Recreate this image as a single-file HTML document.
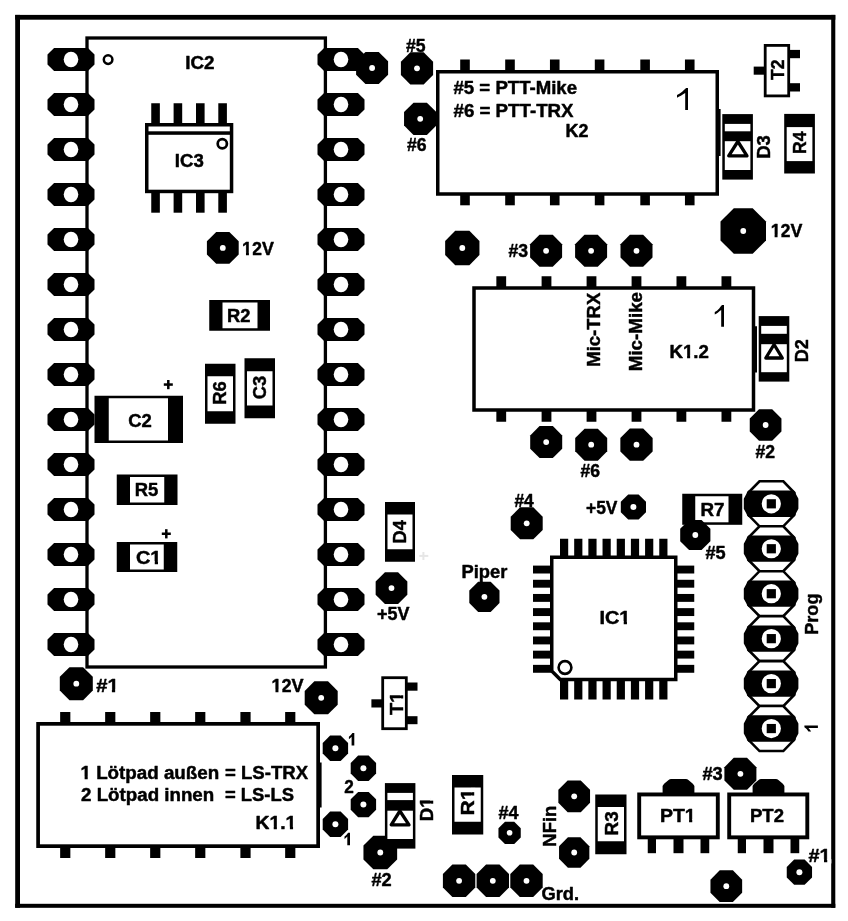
<!DOCTYPE html>
<html><head><meta charset="utf-8"><title>PCB</title>
<style>
html,body{margin:0;padding:0;background:#fff;}
svg{display:block;will-change:transform;filter:grayscale(1) blur(0.35px);}
text{font-family:"Liberation Sans",sans-serif;fill:#000;stroke:#000;stroke-width:0.45px;stroke-linejoin:round;}
</style></head><body>
<svg width="848" height="921" viewBox="0 0 848 921">
<rect width="848" height="921" fill="#fff"/>
<rect x="15.20" y="14.90" width="4.80" height="892.90" fill="#000"/>
<rect x="15.20" y="14.90" width="820.10" height="4.80" fill="#000"/>
<rect x="831.20" y="14.90" width="4.10" height="892.90" fill="#000"/>
<rect x="15.20" y="903.80" width="820.10" height="4.00" fill="#000"/>
<rect x="87" y="38" width="238.4" height="629" fill="none" stroke="#000" stroke-width="3.3"/>
<polygon points="54.10,47.90 87.90,47.90 94.50,54.50 94.50,64.50 87.90,71.10 54.10,71.10 47.50,64.50 47.50,54.50" fill="#000"/>
<ellipse cx="71" cy="59.5" rx="7.3" ry="7.7" fill="#fff"/>
<polygon points="324.10,47.90 357.90,47.90 364.50,54.50 364.50,64.50 357.90,71.10 324.10,71.10 317.50,64.50 317.50,54.50" fill="#000"/>
<ellipse cx="341" cy="59.5" rx="7.3" ry="7.7" fill="#fff"/>
<polygon points="54.10,92.90 87.90,92.90 94.50,99.50 94.50,109.50 87.90,116.10 54.10,116.10 47.50,109.50 47.50,99.50" fill="#000"/>
<ellipse cx="71" cy="104.5" rx="7.3" ry="7.7" fill="#fff"/>
<polygon points="324.10,92.90 357.90,92.90 364.50,99.50 364.50,109.50 357.90,116.10 324.10,116.10 317.50,109.50 317.50,99.50" fill="#000"/>
<ellipse cx="341" cy="104.5" rx="7.3" ry="7.7" fill="#fff"/>
<polygon points="54.10,137.90 87.90,137.90 94.50,144.50 94.50,154.50 87.90,161.10 54.10,161.10 47.50,154.50 47.50,144.50" fill="#000"/>
<ellipse cx="71" cy="149.5" rx="7.3" ry="7.7" fill="#fff"/>
<polygon points="324.10,137.90 357.90,137.90 364.50,144.50 364.50,154.50 357.90,161.10 324.10,161.10 317.50,154.50 317.50,144.50" fill="#000"/>
<ellipse cx="341" cy="149.5" rx="7.3" ry="7.7" fill="#fff"/>
<polygon points="54.10,182.90 87.90,182.90 94.50,189.50 94.50,199.50 87.90,206.10 54.10,206.10 47.50,199.50 47.50,189.50" fill="#000"/>
<ellipse cx="71" cy="194.5" rx="7.3" ry="7.7" fill="#fff"/>
<polygon points="324.10,182.90 357.90,182.90 364.50,189.50 364.50,199.50 357.90,206.10 324.10,206.10 317.50,199.50 317.50,189.50" fill="#000"/>
<ellipse cx="341" cy="194.5" rx="7.3" ry="7.7" fill="#fff"/>
<polygon points="54.10,227.90 87.90,227.90 94.50,234.50 94.50,244.50 87.90,251.10 54.10,251.10 47.50,244.50 47.50,234.50" fill="#000"/>
<ellipse cx="71" cy="239.5" rx="7.3" ry="7.7" fill="#fff"/>
<polygon points="324.10,227.90 357.90,227.90 364.50,234.50 364.50,244.50 357.90,251.10 324.10,251.10 317.50,244.50 317.50,234.50" fill="#000"/>
<ellipse cx="341" cy="239.5" rx="7.3" ry="7.7" fill="#fff"/>
<polygon points="54.10,272.90 87.90,272.90 94.50,279.50 94.50,289.50 87.90,296.10 54.10,296.10 47.50,289.50 47.50,279.50" fill="#000"/>
<ellipse cx="71" cy="284.5" rx="7.3" ry="7.7" fill="#fff"/>
<polygon points="324.10,272.90 357.90,272.90 364.50,279.50 364.50,289.50 357.90,296.10 324.10,296.10 317.50,289.50 317.50,279.50" fill="#000"/>
<ellipse cx="341" cy="284.5" rx="7.3" ry="7.7" fill="#fff"/>
<polygon points="54.10,317.90 87.90,317.90 94.50,324.50 94.50,334.50 87.90,341.10 54.10,341.10 47.50,334.50 47.50,324.50" fill="#000"/>
<ellipse cx="71" cy="329.5" rx="7.3" ry="7.7" fill="#fff"/>
<polygon points="324.10,317.90 357.90,317.90 364.50,324.50 364.50,334.50 357.90,341.10 324.10,341.10 317.50,334.50 317.50,324.50" fill="#000"/>
<ellipse cx="341" cy="329.5" rx="7.3" ry="7.7" fill="#fff"/>
<polygon points="54.10,362.90 87.90,362.90 94.50,369.50 94.50,379.50 87.90,386.10 54.10,386.10 47.50,379.50 47.50,369.50" fill="#000"/>
<ellipse cx="71" cy="374.5" rx="7.3" ry="7.7" fill="#fff"/>
<polygon points="324.10,362.90 357.90,362.90 364.50,369.50 364.50,379.50 357.90,386.10 324.10,386.10 317.50,379.50 317.50,369.50" fill="#000"/>
<ellipse cx="341" cy="374.5" rx="7.3" ry="7.7" fill="#fff"/>
<polygon points="54.10,407.90 87.90,407.90 94.50,414.50 94.50,424.50 87.90,431.10 54.10,431.10 47.50,424.50 47.50,414.50" fill="#000"/>
<ellipse cx="71" cy="419.5" rx="7.3" ry="7.7" fill="#fff"/>
<polygon points="324.10,407.90 357.90,407.90 364.50,414.50 364.50,424.50 357.90,431.10 324.10,431.10 317.50,424.50 317.50,414.50" fill="#000"/>
<ellipse cx="341" cy="419.5" rx="7.3" ry="7.7" fill="#fff"/>
<polygon points="54.10,452.90 87.90,452.90 94.50,459.50 94.50,469.50 87.90,476.10 54.10,476.10 47.50,469.50 47.50,459.50" fill="#000"/>
<ellipse cx="71" cy="464.5" rx="7.3" ry="7.7" fill="#fff"/>
<polygon points="324.10,452.90 357.90,452.90 364.50,459.50 364.50,469.50 357.90,476.10 324.10,476.10 317.50,469.50 317.50,459.50" fill="#000"/>
<ellipse cx="341" cy="464.5" rx="7.3" ry="7.7" fill="#fff"/>
<polygon points="54.10,497.90 87.90,497.90 94.50,504.50 94.50,514.50 87.90,521.10 54.10,521.10 47.50,514.50 47.50,504.50" fill="#000"/>
<ellipse cx="71" cy="509.5" rx="7.3" ry="7.7" fill="#fff"/>
<polygon points="324.10,497.90 357.90,497.90 364.50,504.50 364.50,514.50 357.90,521.10 324.10,521.10 317.50,514.50 317.50,504.50" fill="#000"/>
<ellipse cx="341" cy="509.5" rx="7.3" ry="7.7" fill="#fff"/>
<polygon points="54.10,542.90 87.90,542.90 94.50,549.50 94.50,559.50 87.90,566.10 54.10,566.10 47.50,559.50 47.50,549.50" fill="#000"/>
<ellipse cx="71" cy="554.5" rx="7.3" ry="7.7" fill="#fff"/>
<polygon points="324.10,542.90 357.90,542.90 364.50,549.50 364.50,559.50 357.90,566.10 324.10,566.10 317.50,559.50 317.50,549.50" fill="#000"/>
<ellipse cx="341" cy="554.5" rx="7.3" ry="7.7" fill="#fff"/>
<polygon points="54.10,587.90 87.90,587.90 94.50,594.50 94.50,604.50 87.90,611.10 54.10,611.10 47.50,604.50 47.50,594.50" fill="#000"/>
<ellipse cx="71" cy="599.5" rx="7.3" ry="7.7" fill="#fff"/>
<polygon points="324.10,587.90 357.90,587.90 364.50,594.50 364.50,604.50 357.90,611.10 324.10,611.10 317.50,604.50 317.50,594.50" fill="#000"/>
<ellipse cx="341" cy="599.5" rx="7.3" ry="7.7" fill="#fff"/>
<polygon points="54.10,632.90 87.90,632.90 94.50,639.50 94.50,649.50 87.90,656.10 54.10,656.10 47.50,649.50 47.50,639.50" fill="#000"/>
<ellipse cx="71" cy="644.5" rx="7.3" ry="7.7" fill="#fff"/>
<polygon points="324.10,632.90 357.90,632.90 364.50,639.50 364.50,649.50 357.90,656.10 324.10,656.10 317.50,649.50 317.50,639.50" fill="#000"/>
<ellipse cx="341" cy="644.5" rx="7.3" ry="7.7" fill="#fff"/>
<circle cx="108.1" cy="59.6" r="4.3" fill="#fff" stroke="#000" stroke-width="2.5"/>
<text x="185.22" y="68.50" font-size="17.6" font-weight="bold" textLength="29.30" lengthAdjust="spacingAndGlyphs">IC2</text>
<rect x="151.25" y="103.25" width="8.60" height="20.75" fill="#000"/>
<rect x="151.25" y="192.00" width="8.60" height="20.70" fill="#000"/>
<rect x="173.60" y="103.25" width="8.60" height="20.75" fill="#000"/>
<rect x="173.60" y="192.00" width="8.60" height="20.70" fill="#000"/>
<rect x="196.00" y="103.25" width="8.60" height="20.75" fill="#000"/>
<rect x="196.00" y="192.00" width="8.60" height="20.70" fill="#000"/>
<rect x="218.30" y="103.25" width="8.60" height="20.75" fill="#000"/>
<rect x="218.30" y="192.00" width="8.60" height="20.70" fill="#000"/>
<rect x="146.75" y="124.75" width="84.80" height="66.70" fill="#fff" stroke="#000" stroke-width="3.5"/>
<rect x="146.00" y="131.30" width="86.00" height="3.50" fill="#000"/>
<circle cx="222.3" cy="143.8" r="4.6" fill="#fff" stroke="#000" stroke-width="2.7"/>
<text x="174.79" y="166.80" font-size="17.6" font-weight="bold" textLength="28.98" lengthAdjust="spacingAndGlyphs">IC3</text>
<polygon points="216.21,232.00 229.39,232.00 238.70,241.31 238.70,254.49 229.39,263.80 216.21,263.80 206.90,254.49 206.90,241.31" fill="#000"/>
<circle cx="222.8" cy="247.9" r="2.9" fill="#fff"/>
<text x="242.04" y="255.00" font-size="17.6" font-weight="bold" textLength="31.78" lengthAdjust="spacingAndGlyphs">12V</text><rect x="241.97" y="252.50" width="4.00" height="4.20" fill="#fff"/><rect x="248.92" y="252.50" width="3.77" height="4.20" fill="#fff"/>
<rect x="209.25" y="300.00" width="60.75" height="30.75" fill="#000"/>
<rect x="222.50" y="302.50" width="35.00" height="25.75" fill="#fff"/>
<text x="227.03" y="322.25" font-size="17.6" font-weight="bold" textLength="23.46" lengthAdjust="spacingAndGlyphs">R2</text>
<rect x="205.00" y="363.75" width="30.50" height="60.00" fill="#000"/>
<rect x="207.50" y="376.25" width="25.50" height="35.00" fill="#fff"/>
<text transform="translate(225.60,392.98) rotate(-90)" font-size="18.8" font-weight="bold" text-anchor="middle" textLength="23.60" lengthAdjust="spacingAndGlyphs">R6</text>
<rect x="244.50" y="358.25" width="30.50" height="60.00" fill="#000"/>
<rect x="247.00" y="371.25" width="25.50" height="34.25" fill="#fff"/>
<text transform="translate(265.60,387.64) rotate(-90)" font-size="18.8" font-weight="bold" text-anchor="middle" textLength="23.42" lengthAdjust="spacingAndGlyphs">C3</text>
<rect x="94.50" y="395.75" width="88.50" height="47.25" fill="#000"/>
<rect x="108.75" y="398.25" width="59.25" height="42.25" fill="#fff"/>
<text x="128.15" y="427.25" font-size="17.6" font-weight="bold" textLength="23.62" lengthAdjust="spacingAndGlyphs">C2</text>
<rect x="163.80" y="383.30" width="9.00" height="2.50" fill="#000"/>
<rect x="167.05" y="380.00" width="2.50" height="9.20" fill="#000"/>
<rect x="116.75" y="474.50" width="60.75" height="30.50" fill="#000"/>
<rect x="130.00" y="477.00" width="34.25" height="25.50" fill="#fff"/>
<text x="134.69" y="496.00" font-size="17.6" font-weight="bold" textLength="23.57" lengthAdjust="spacingAndGlyphs">R5</text>
<rect x="116.75" y="542.00" width="60.50" height="30.00" fill="#000"/>
<rect x="130.00" y="544.50" width="33.75" height="25.00" fill="#fff"/>
<text x="135.92" y="563.75" font-size="17.6" font-weight="bold" textLength="25.53" lengthAdjust="spacingAndGlyphs">C1</text><rect x="150.39" y="561.25" width="4.36" height="4.20" fill="#fff"/><rect x="157.99" y="561.25" width="4.10" height="4.20" fill="#fff"/>
<rect x="161.80" y="532.50" width="9.00" height="2.50" fill="#000"/>
<rect x="165.05" y="529.20" width="2.50" height="9.20" fill="#000"/>
<polygon points="365.47,52.00 378.73,52.00 388.10,61.37 388.10,74.63 378.73,84.00 365.47,84.00 356.10,74.63 356.10,61.37" fill="#000"/>
<circle cx="372.1" cy="68" r="2.9" fill="#fff"/>
<polygon points="410.33,52.20 423.67,52.20 433.10,61.63 433.10,74.97 423.67,84.40 410.33,84.40 400.90,74.97 400.90,61.63" fill="#000"/>
<circle cx="417" cy="68.3" r="2.9" fill="#fff"/>
<polygon points="413.51,102.65 426.89,102.65 436.35,112.11 436.35,125.49 426.89,134.95 413.51,134.95 404.05,125.49 404.05,112.11" fill="#000"/>
<circle cx="420.2" cy="118.8" r="2.9" fill="#fff"/>
<text x="406.07" y="51.75" font-size="17.6" font-weight="bold" textLength="19.60" lengthAdjust="spacingAndGlyphs">#5</text>
<text x="407.00" y="151.25" font-size="17.6" font-weight="bold" textLength="19.62" lengthAdjust="spacingAndGlyphs">#6</text>
<rect x="460.20" y="59.50" width="9.60" height="11.50" fill="#000"/>
<rect x="460.20" y="195.00" width="9.60" height="10.30" fill="#000"/>
<rect x="505.20" y="59.50" width="9.60" height="11.50" fill="#000"/>
<rect x="505.20" y="195.00" width="9.60" height="10.30" fill="#000"/>
<rect x="549.95" y="59.50" width="9.60" height="11.50" fill="#000"/>
<rect x="549.95" y="195.00" width="9.60" height="10.30" fill="#000"/>
<rect x="594.80" y="59.50" width="9.60" height="11.50" fill="#000"/>
<rect x="594.80" y="195.00" width="9.60" height="10.30" fill="#000"/>
<rect x="640.30" y="59.50" width="9.60" height="11.50" fill="#000"/>
<rect x="640.30" y="195.00" width="9.60" height="10.30" fill="#000"/>
<rect x="684.95" y="59.50" width="9.60" height="11.50" fill="#000"/>
<rect x="684.95" y="195.00" width="9.60" height="10.30" fill="#000"/>
<rect x="437.75" y="71.75" width="279.50" height="122.25" fill="#fff" stroke="#000" stroke-width="3.5"/>
<rect x="717.50" y="109.00" width="3.10" height="47.00" fill="#000"/>
<text x="453.50" y="94.25" font-size="17.6" font-weight="bold" textLength="123.56" lengthAdjust="spacingAndGlyphs">#5 = PTT-Mike</text>
<text x="453.50" y="117.25" font-size="17.6" font-weight="bold" textLength="120.07" lengthAdjust="spacingAndGlyphs">#6 = PTT-TRX</text>
<text x="565.56" y="137.25" font-size="17.6" font-weight="bold" textLength="22.87" lengthAdjust="spacingAndGlyphs">K2</text>
<path d="M688.00,110.00 L685.20,110.00 L685.20,92.95 C682.70,94.60 679.00,96.80 677.00,97.68 L677.00,95.04 C681.00,93.28 683.70,90.20 686.10,88.00 L688.00,88.00 Z" fill="#000"/>
<rect x="753.70" y="66.60" width="11.30" height="8.10" fill="#000"/>
<rect x="789.50" y="49.90" width="10.50" height="8.30" fill="#000"/>
<rect x="789.50" y="83.20" width="10.50" height="8.30" fill="#000"/>
<rect x="765.20" y="45.40" width="23.50" height="50.50" fill="#fff" stroke="#000" stroke-width="2.8"/>
<text transform="translate(783.60,69.75) rotate(-90)" font-size="18.8" font-weight="bold" text-anchor="middle" textLength="20.52" lengthAdjust="spacingAndGlyphs">T2</text>
<rect x="722.30" y="114.10" width="30.60" height="65.50" fill="#000"/>
<rect x="724.80" y="123.90" width="25.60" height="7.40" fill="#fff"/>
<rect x="724.80" y="141.20" width="25.60" height="28.80" fill="#fff"/>
<polygon points="737.85,141.50 747.00,155.85 728.70,155.85" fill="#fff" stroke="#000" stroke-width="3.3" stroke-linejoin="round"/>
<text transform="translate(769.80,146.95) rotate(-90)" font-size="18.8" font-weight="bold" text-anchor="middle" textLength="23.67" lengthAdjust="spacingAndGlyphs">D3</text>
<rect x="784.20" y="113.90" width="30.70" height="59.60" fill="#000"/>
<rect x="786.70" y="127.10" width="25.70" height="34.00" fill="#fff"/>
<text transform="translate(806.00,142.76) rotate(-90)" font-size="18.8" font-weight="bold" text-anchor="middle" textLength="22.55" lengthAdjust="spacingAndGlyphs">R4</text>
<polygon points="733.83,208.25 752.67,208.25 766.00,221.58 766.00,240.42 752.67,253.75 733.83,253.75 720.50,240.42 720.50,221.58" fill="#000"/>
<circle cx="743.25" cy="231" r="2.9" fill="#fff"/>
<text x="770.69" y="237.25" font-size="17.6" font-weight="bold" textLength="31.73" lengthAdjust="spacingAndGlyphs">12V</text><rect x="770.61" y="234.75" width="3.99" height="4.20" fill="#fff"/><rect x="777.56" y="234.75" width="3.77" height="4.20" fill="#fff"/>
<polygon points="455.20,230.85 469.40,230.85 479.45,240.90 479.45,255.10 469.40,265.15 455.20,265.15 445.15,255.10 445.15,240.90" fill="#000"/>
<circle cx="462.3" cy="248" r="2.9" fill="#fff"/>
<polygon points="539.47,234.80 552.73,234.80 562.10,244.17 562.10,257.43 552.73,266.80 539.47,266.80 530.10,257.43 530.10,244.17" fill="#000"/>
<circle cx="546.1" cy="250.8" r="2.9" fill="#fff"/>
<polygon points="584.47,234.80 597.73,234.80 607.10,244.17 607.10,257.43 597.73,266.80 584.47,266.80 575.10,257.43 575.10,244.17" fill="#000"/>
<circle cx="591.1" cy="250.8" r="2.9" fill="#fff"/>
<polygon points="629.87,234.80 643.13,234.80 652.50,244.17 652.50,257.43 643.13,266.80 629.87,266.80 620.50,257.43 620.50,244.17" fill="#000"/>
<circle cx="636.5" cy="250.8" r="2.9" fill="#fff"/>
<text x="508.41" y="256.75" font-size="17.6" font-weight="bold" textLength="19.62" lengthAdjust="spacingAndGlyphs">#3</text>
<rect x="496.35" y="276.25" width="9.80" height="11.25" fill="#000"/>
<rect x="496.35" y="411.00" width="9.80" height="10.75" fill="#000"/>
<rect x="541.60" y="276.25" width="9.80" height="11.25" fill="#000"/>
<rect x="541.60" y="411.00" width="9.80" height="10.75" fill="#000"/>
<rect x="586.60" y="276.25" width="9.80" height="11.25" fill="#000"/>
<rect x="586.60" y="411.00" width="9.80" height="10.75" fill="#000"/>
<rect x="631.60" y="276.25" width="9.80" height="11.25" fill="#000"/>
<rect x="631.60" y="411.00" width="9.80" height="10.75" fill="#000"/>
<rect x="676.50" y="276.25" width="9.80" height="11.25" fill="#000"/>
<rect x="676.50" y="411.00" width="9.80" height="10.75" fill="#000"/>
<rect x="721.50" y="276.25" width="9.80" height="11.25" fill="#000"/>
<rect x="721.50" y="411.00" width="9.80" height="10.75" fill="#000"/>
<rect x="474.00" y="288.00" width="279.50" height="122.00" fill="#fff" stroke="#000" stroke-width="3.5"/>
<rect x="753.60" y="326.25" width="3.40" height="46.25" fill="#000"/>
<text transform="translate(600.10,329.72) rotate(-90)" font-size="18.8" font-weight="bold" text-anchor="middle" textLength="74.08" lengthAdjust="spacingAndGlyphs">Mic-TRX</text>
<text transform="translate(642.20,331.60) rotate(-90)" font-size="18.8" font-weight="bold" text-anchor="middle" textLength="79.33" lengthAdjust="spacingAndGlyphs">Mic-Mike</text>
<path d="M724.00,326.75 L721.20,326.75 L721.20,309.89 C718.70,311.52 716.75,313.70 714.75,314.57 L714.75,311.96 C718.75,310.22 719.70,307.18 722.10,305.00 L724.00,305.00 Z" fill="#000"/>
<text x="669.49" y="358.00" font-size="17.6" font-weight="bold" textLength="39.44" lengthAdjust="spacingAndGlyphs">K1.2</text><rect x="682.95" y="355.50" width="4.14" height="4.20" fill="#fff"/><rect x="690.14" y="355.50" width="3.90" height="4.20" fill="#fff"/>
<rect x="758.70" y="316.10" width="30.60" height="65.50" fill="#000"/>
<rect x="761.20" y="325.90" width="25.60" height="7.90" fill="#fff"/>
<rect x="761.20" y="344.20" width="25.60" height="28.00" fill="#fff"/>
<polygon points="774.05,344.50 782.30,358.00 765.80,358.00" fill="#fff" stroke="#000" stroke-width="3.3" stroke-linejoin="round"/>
<text transform="translate(807.80,350.75) rotate(-90)" font-size="18.8" font-weight="bold" text-anchor="middle" textLength="23.13" lengthAdjust="spacingAndGlyphs">D2</text>
<polygon points="539.57,426.10 552.83,426.10 562.20,435.47 562.20,448.73 552.83,458.10 539.57,458.10 530.20,448.73 530.20,435.47" fill="#000"/>
<circle cx="546.2" cy="442.1" r="2.9" fill="#fff"/>
<polygon points="584.57,428.70 597.83,428.70 607.20,438.07 607.20,451.33 597.83,460.70 584.57,460.70 575.20,451.33 575.20,438.07" fill="#000"/>
<circle cx="591.2" cy="444.7" r="2.9" fill="#fff"/>
<polygon points="629.81,428.55 643.19,428.55 652.65,438.01 652.65,451.39 643.19,460.85 629.81,460.85 620.35,451.39 620.35,438.01" fill="#000"/>
<circle cx="636.5" cy="444.7" r="2.9" fill="#fff"/>
<text x="580.41" y="476.75" font-size="17.6" font-weight="bold" textLength="19.55" lengthAdjust="spacingAndGlyphs">#6</text>
<polygon points="759.03,409.15 772.17,409.15 781.45,418.43 781.45,431.57 772.17,440.85 759.03,440.85 749.75,431.57 749.75,418.43" fill="#000"/>
<circle cx="765.6" cy="425" r="2.9" fill="#fff"/>
<text x="755.41" y="458.00" font-size="17.6" font-weight="bold" textLength="19.60" lengthAdjust="spacingAndGlyphs">#2</text>
<polygon points="520.07,507.30 533.33,507.30 542.70,516.67 542.70,529.93 533.33,539.30 520.07,539.30 510.70,529.93 510.70,516.67" fill="#000"/>
<circle cx="526.7" cy="523.3" r="2.9" fill="#fff"/>
<text x="514.47" y="506.75" font-size="17.6" font-weight="bold" textLength="19.32" lengthAdjust="spacingAndGlyphs">#4</text>
<polygon points="628.18,494.40 638.62,494.40 646.00,501.78 646.00,512.22 638.62,519.60 628.18,519.60 620.80,512.22 620.80,501.78" fill="#000"/>
<circle cx="633.4" cy="507" r="3" fill="#fff"/>
<text x="586.00" y="513.50" font-size="17.6" font-weight="bold" textLength="31.42" lengthAdjust="spacingAndGlyphs">+5V</text>
<rect x="682.25" y="493.75" width="60.00" height="31.05" fill="#000"/>
<rect x="695.25" y="496.25" width="33.25" height="26.05" fill="#fff"/>
<text x="700.49" y="516.00" font-size="17.6" font-weight="bold" textLength="24.03" lengthAdjust="spacingAndGlyphs">R7</text>
<polygon points="689.05,519.90 701.55,519.90 710.40,528.75 710.40,541.25 701.55,550.10 689.05,550.10 680.20,541.25 680.20,528.75" fill="#000"/>
<circle cx="695.3" cy="535" r="2.9" fill="#fff"/>
<text x="705.42" y="558.50" font-size="17.6" font-weight="bold" textLength="20.19" lengthAdjust="spacingAndGlyphs">#5</text>
<rect x="385.00" y="502.00" width="30.00" height="59.75" fill="#000"/>
<rect x="387.50" y="514.50" width="25.00" height="34.75" fill="#fff"/>
<text transform="translate(406.30,531.88) rotate(-90)" font-size="18.8" font-weight="bold" text-anchor="middle" textLength="23.28" lengthAdjust="spacingAndGlyphs">D4</text>
<polygon points="384.93,572.25 398.07,572.25 407.35,581.53 407.35,594.67 398.07,603.95 384.93,603.95 375.65,594.67 375.65,581.53" fill="#000"/>
<circle cx="391.5" cy="588.1" r="2.9" fill="#fff"/>
<text x="377.00" y="619.75" font-size="17.6" font-weight="bold" textLength="32.46" lengthAdjust="spacingAndGlyphs">+5V</text>
<rect x="419.30" y="554.90" width="9.00" height="2.00" fill="#e6e6e6"/>
<rect x="422.40" y="552.00" width="2.00" height="8.00" fill="#e6e6e6"/>
<text x="461.52" y="578.00" font-size="17.6" font-weight="bold" textLength="45.82" lengthAdjust="spacingAndGlyphs">Piper</text>
<polygon points="478.15,581.70 490.65,581.70 499.50,590.55 499.50,603.05 490.65,611.90 478.15,611.90 469.30,603.05 469.30,590.55" fill="#000"/>
<circle cx="484.4" cy="596.8" r="2.9" fill="#fff"/>
<rect x="560.00" y="538.75" width="8.20" height="18.25" fill="#000"/>
<rect x="560.00" y="680.00" width="8.20" height="19.50" fill="#000"/>
<rect x="533.00" y="565.60" width="19.00" height="7.90" fill="#000"/>
<rect x="676.00" y="565.60" width="18.25" height="7.90" fill="#000"/>
<rect x="574.18" y="538.75" width="8.20" height="18.25" fill="#000"/>
<rect x="574.18" y="680.00" width="8.20" height="19.50" fill="#000"/>
<rect x="533.00" y="579.78" width="19.00" height="7.90" fill="#000"/>
<rect x="676.00" y="579.78" width="18.25" height="7.90" fill="#000"/>
<rect x="588.36" y="538.75" width="8.20" height="18.25" fill="#000"/>
<rect x="588.36" y="680.00" width="8.20" height="19.50" fill="#000"/>
<rect x="533.00" y="593.96" width="19.00" height="7.90" fill="#000"/>
<rect x="676.00" y="593.96" width="18.25" height="7.90" fill="#000"/>
<rect x="602.54" y="538.75" width="8.20" height="18.25" fill="#000"/>
<rect x="602.54" y="680.00" width="8.20" height="19.50" fill="#000"/>
<rect x="533.00" y="608.14" width="19.00" height="7.90" fill="#000"/>
<rect x="676.00" y="608.14" width="18.25" height="7.90" fill="#000"/>
<rect x="616.72" y="538.75" width="8.20" height="18.25" fill="#000"/>
<rect x="616.72" y="680.00" width="8.20" height="19.50" fill="#000"/>
<rect x="533.00" y="622.32" width="19.00" height="7.90" fill="#000"/>
<rect x="676.00" y="622.32" width="18.25" height="7.90" fill="#000"/>
<rect x="630.90" y="538.75" width="8.20" height="18.25" fill="#000"/>
<rect x="630.90" y="680.00" width="8.20" height="19.50" fill="#000"/>
<rect x="533.00" y="636.50" width="19.00" height="7.90" fill="#000"/>
<rect x="676.00" y="636.50" width="18.25" height="7.90" fill="#000"/>
<rect x="645.08" y="538.75" width="8.20" height="18.25" fill="#000"/>
<rect x="645.08" y="680.00" width="8.20" height="19.50" fill="#000"/>
<rect x="533.00" y="650.68" width="19.00" height="7.90" fill="#000"/>
<rect x="676.00" y="650.68" width="18.25" height="7.90" fill="#000"/>
<rect x="659.26" y="538.75" width="8.20" height="18.25" fill="#000"/>
<rect x="659.26" y="680.00" width="8.20" height="19.50" fill="#000"/>
<rect x="533.00" y="664.86" width="19.00" height="7.90" fill="#000"/>
<rect x="676.00" y="664.86" width="18.25" height="7.90" fill="#000"/>
<polygon points="551.75,557.25 675.75,557.25 675.75,679.5 560.25,679.5 551.75,671.0" fill="#fff" stroke="#000" stroke-width="3.5"/>
<circle cx="565" cy="667.5" r="6.4" fill="#fff" stroke="#000" stroke-width="2.6"/>
<text x="599.40" y="623.75" font-size="17.6" font-weight="bold" textLength="31.01" lengthAdjust="spacingAndGlyphs">IC1</text><rect x="619.37" y="621.25" width="4.35" height="4.20" fill="#fff"/><rect x="626.96" y="621.25" width="4.10" height="4.20" fill="#fff"/>
<polygon points="759.5,481.3 783.3,481.3 794.4,492.8 794.4,514.8 783.3,526.3 759.5,526.3 748.2,514.8 748.2,492.8" fill="#fff" stroke="#000" stroke-width="2.6" stroke-linejoin="miter"/>
<polygon points="748.8,491.6 793.4,491.6 797.4,499.0 797.4,508.5 793.4,515.9 748.8,515.9 744.8,508.5 744.8,499.0" fill="#000" stroke="#000" stroke-width="2" stroke-linejoin="round"/>
<circle cx="771.3" cy="503.8" r="9.6" fill="#fff"/>
<rect x="766.70" y="499.20" width="9.20" height="9.20" fill="#000"/>
<polygon points="759.5,526.25 783.3,526.25 794.4,537.75 794.4,559.75 783.3,571.25 759.5,571.25 748.2,559.75 748.2,537.75" fill="#fff" stroke="#000" stroke-width="2.6" stroke-linejoin="miter"/>
<polygon points="748.8,536.55 793.4,536.55 797.4,543.9499999999999 797.4,553.45 793.4,560.85 748.8,560.85 744.8,553.45 744.8,543.9499999999999" fill="#000" stroke="#000" stroke-width="2" stroke-linejoin="round"/>
<circle cx="771.3" cy="548.75" r="9.6" fill="#fff"/>
<rect x="766.70" y="544.15" width="9.20" height="9.20" fill="#000"/>
<polygon points="759.5,571.2 783.3,571.2 794.4,582.7 794.4,604.7 783.3,616.2 759.5,616.2 748.2,604.7 748.2,582.7" fill="#fff" stroke="#000" stroke-width="2.6" stroke-linejoin="miter"/>
<polygon points="748.8,581.5 793.4,581.5 797.4,588.9 797.4,598.4000000000001 793.4,605.8000000000001 748.8,605.8000000000001 744.8,598.4000000000001 744.8,588.9" fill="#000" stroke="#000" stroke-width="2" stroke-linejoin="round"/>
<circle cx="771.3" cy="593.7" r="9.6" fill="#fff"/>
<rect x="766.70" y="589.10" width="9.20" height="9.20" fill="#000"/>
<polygon points="759.5,616.1500000000001 783.3,616.1500000000001 794.4,627.6500000000001 794.4,649.6500000000001 783.3,661.1500000000001 759.5,661.1500000000001 748.2,649.6500000000001 748.2,627.6500000000001" fill="#fff" stroke="#000" stroke-width="2.6" stroke-linejoin="miter"/>
<polygon points="748.8,626.45 793.4,626.45 797.4,633.85 797.4,643.3500000000001 793.4,650.7500000000001 748.8,650.7500000000001 744.8,643.3500000000001 744.8,633.85" fill="#000" stroke="#000" stroke-width="2" stroke-linejoin="round"/>
<circle cx="771.3" cy="638.6500000000001" r="9.6" fill="#fff"/>
<rect x="766.70" y="634.05" width="9.20" height="9.20" fill="#000"/>
<polygon points="759.5,661.1 783.3,661.1 794.4,672.6 794.4,694.6 783.3,706.1 759.5,706.1 748.2,694.6 748.2,672.6" fill="#fff" stroke="#000" stroke-width="2.6" stroke-linejoin="miter"/>
<polygon points="748.8,671.4 793.4,671.4 797.4,678.8 797.4,688.3000000000001 793.4,695.7 748.8,695.7 744.8,688.3000000000001 744.8,678.8" fill="#000" stroke="#000" stroke-width="2" stroke-linejoin="round"/>
<circle cx="771.3" cy="683.6" r="9.6" fill="#fff"/>
<rect x="766.70" y="679.00" width="9.20" height="9.20" fill="#000"/>
<polygon points="759.5,706.05 783.3,706.05 794.4,717.55 794.4,739.55 783.3,751.05 759.5,751.05 748.2,739.55 748.2,717.55" fill="#fff" stroke="#000" stroke-width="2.6" stroke-linejoin="miter"/>
<polygon points="748.8,716.3499999999999 793.4,716.3499999999999 797.4,723.7499999999999 797.4,733.25 793.4,740.65 748.8,740.65 744.8,733.25 744.8,723.7499999999999" fill="#000" stroke="#000" stroke-width="2" stroke-linejoin="round"/>
<circle cx="771.3" cy="728.55" r="9.6" fill="#fff"/>
<rect x="766.70" y="723.95" width="9.20" height="9.20" fill="#000"/>
<text transform="translate(817.70,614.15) rotate(-90)" font-size="18.8" font-weight="bold" text-anchor="middle" textLength="41.29" lengthAdjust="spacingAndGlyphs">Prog</text>
<g transform="translate(817.9,727.9) rotate(-90)"><path d="M2.50,0.00 L-0.20,0.00 L-0.20,-9.45 Q-1.80,-7.83 -3.60,-6.75 L-3.60,-9.45 Q-0.80,-11.07 0.60,-13.50 L2.50,-13.50 Z" fill="#000"/></g>
<polygon points="69.47,667.20 83.13,667.20 92.80,676.87 92.80,690.53 83.13,700.20 69.47,700.20 59.80,690.53 59.80,676.87" fill="#000"/>
<circle cx="76.3" cy="683.7" r="2.9" fill="#fff"/>
<text x="96.20" y="692.00" font-size="17.6" font-weight="bold" textLength="22.46" lengthAdjust="spacingAndGlyphs">#1</text><rect x="107.49" y="689.50" width="4.39" height="4.20" fill="#fff"/><rect x="115.16" y="689.50" width="4.14" height="4.20" fill="#fff"/>
<text x="271.49" y="692.25" font-size="17.6" font-weight="bold" textLength="32.18" lengthAdjust="spacingAndGlyphs">12V</text><rect x="271.43" y="689.75" width="4.04" height="4.20" fill="#fff"/><rect x="278.45" y="689.75" width="3.81" height="4.20" fill="#fff"/>
<polygon points="314.37,681.30 328.03,681.30 337.70,690.97 337.70,704.63 328.03,714.30 314.37,714.30 304.70,704.63 304.70,690.97" fill="#000"/>
<circle cx="321.2" cy="697.8" r="2.9" fill="#fff"/>
<rect x="371.40" y="699.30" width="11.60" height="8.20" fill="#000"/>
<rect x="406.50" y="682.50" width="11.00" height="8.20" fill="#000"/>
<rect x="406.50" y="716.20" width="11.00" height="8.00" fill="#000"/>
<rect x="382.70" y="677.70" width="23.60" height="51.00" fill="#fff" stroke="#000" stroke-width="2.8"/>
<text transform="translate(402.60,703.41) rotate(-90)" font-size="18.8" font-weight="bold" text-anchor="middle" textLength="23.15" lengthAdjust="spacingAndGlyphs">T1</text><g transform="translate(402.60,703.41) rotate(-90)"><rect x="0.59" y="-2.62" width="4.33" height="4.32" fill="#fff"/><rect x="8.14" y="-2.62" width="4.08" height="4.32" fill="#fff"/></g>
<rect x="60.15" y="712.00" width="10.20" height="11.00" fill="#000"/>
<rect x="60.15" y="847.00" width="10.20" height="11.00" fill="#000"/>
<rect x="105.15" y="712.00" width="10.20" height="11.00" fill="#000"/>
<rect x="105.15" y="847.00" width="10.20" height="11.00" fill="#000"/>
<rect x="150.15" y="712.00" width="10.20" height="11.00" fill="#000"/>
<rect x="150.15" y="847.00" width="10.20" height="11.00" fill="#000"/>
<rect x="195.15" y="712.00" width="10.20" height="11.00" fill="#000"/>
<rect x="195.15" y="847.00" width="10.20" height="11.00" fill="#000"/>
<rect x="240.40" y="712.00" width="10.20" height="11.00" fill="#000"/>
<rect x="240.40" y="847.00" width="10.20" height="11.00" fill="#000"/>
<rect x="285.15" y="712.00" width="10.20" height="11.00" fill="#000"/>
<rect x="285.15" y="847.00" width="10.20" height="11.00" fill="#000"/>
<rect x="38.10" y="723.85" width="280.05" height="122.30" fill="#fff" stroke="#000" stroke-width="3.7"/>
<rect x="318.40" y="762.50" width="3.20" height="45.00" fill="#000"/>
<text x="80.49" y="779.25" font-size="17.6" font-weight="bold" textLength="138.73" lengthAdjust="spacingAndGlyphs">1 Lötpad außen</text><rect x="80.47" y="776.75" width="4.15" height="4.20" fill="#fff"/><rect x="87.71" y="776.75" width="3.91" height="4.20" fill="#fff"/>
<text x="225.00" y="779.25" font-size="17.6" font-weight="bold" textLength="83.05" lengthAdjust="spacingAndGlyphs">= LS-TRX</text>
<text x="81.06" y="801.00" font-size="17.6" font-weight="bold" textLength="133.19" lengthAdjust="spacingAndGlyphs">2 Lötpad innen</text>
<text x="225.00" y="801.00" font-size="17.6" font-weight="bold" textLength="69.00" lengthAdjust="spacingAndGlyphs">= LS-LS</text>
<text x="255.43" y="829.25" font-size="17.6" font-weight="bold" textLength="40.98" lengthAdjust="spacingAndGlyphs">K1.1</text><rect x="269.46" y="826.75" width="4.26" height="4.20" fill="#fff"/><rect x="276.88" y="826.75" width="4.01" height="4.20" fill="#fff"/><rect x="285.63" y="826.75" width="4.26" height="4.20" fill="#fff"/><rect x="293.06" y="826.75" width="4.01" height="4.20" fill="#fff"/>
<polygon points="330.14,735.60 340.66,735.60 348.10,743.04 348.10,753.56 340.66,761.00 330.14,761.00 322.70,753.56 322.70,743.04" fill="#000"/>
<circle cx="335.4" cy="748.3" r="3" fill="#fff"/>
<polygon points="358.14,755.50 368.66,755.50 376.10,762.94 376.10,773.46 368.66,780.90 358.14,780.90 350.70,773.46 350.70,762.94" fill="#000"/>
<circle cx="363.4" cy="768.2" r="3" fill="#fff"/>
<polygon points="358.14,791.90 368.66,791.90 376.10,799.34 376.10,809.86 368.66,817.30 358.14,817.30 350.70,809.86 350.70,799.34" fill="#000"/>
<circle cx="363.4" cy="804.6" r="3" fill="#fff"/>
<polygon points="330.14,811.60 340.66,811.60 348.10,819.04 348.10,829.56 340.66,837.00 330.14,837.00 322.70,829.56 322.70,819.04" fill="#000"/>
<circle cx="335.4" cy="824.3" r="3" fill="#fff"/>
<path d="M354.30,745.50 L351.60,745.50 L351.60,736.75 Q350.00,738.25 348.90,739.25 L348.90,736.75 Q351.00,735.25 352.40,733.00 L354.30,733.00 Z" fill="#000"/>
<text x="344.23" y="793.00" font-size="17.6" font-weight="bold" textLength="9.56" lengthAdjust="spacingAndGlyphs">2</text>
<path d="M350.00,845.20 L347.30,845.20 L347.30,836.45 Q345.70,837.95 344.50,838.95 L344.50,836.45 Q346.70,834.95 348.10,832.70 L350.00,832.70 Z" fill="#000"/>
<polygon points="373.32,835.65 387.28,835.65 397.15,845.52 397.15,859.48 387.28,869.35 373.32,869.35 363.45,859.48 363.45,845.52" fill="#000"/>
<circle cx="380.3" cy="852.5" r="2.9" fill="#fff"/>
<text x="371.42" y="886.25" font-size="17.6" font-weight="bold" textLength="20.28" lengthAdjust="spacingAndGlyphs">#2</text>
<rect x="384.90" y="783.10" width="30.50" height="65.50" fill="#000"/>
<rect x="387.40" y="792.90" width="25.50" height="7.20" fill="#fff"/>
<rect x="387.40" y="810.70" width="25.50" height="28.30" fill="#fff"/>
<polygon points="399.90,811.00 409.00,824.85 391.20,824.85" fill="#fff" stroke="#000" stroke-width="3.3" stroke-linejoin="round"/>
<text transform="translate(432.80,809.36) rotate(-90)" font-size="18.8" font-weight="bold" text-anchor="middle" textLength="23.86" lengthAdjust="spacingAndGlyphs">D1</text><g transform="translate(432.80,809.36) rotate(-90)"><rect x="1.52" y="-2.62" width="4.13" height="4.32" fill="#fff"/><rect x="8.72" y="-2.62" width="3.90" height="4.32" fill="#fff"/></g>
<rect x="452.00" y="775.00" width="31.25" height="59.50" fill="#000"/>
<rect x="454.50" y="787.50" width="26.25" height="34.25" fill="#fff"/>
<text transform="translate(473.60,802.02) rotate(-90)" font-size="18.8" font-weight="bold" text-anchor="middle" textLength="27.07" lengthAdjust="spacingAndGlyphs">R1</text><g transform="translate(473.60,802.02) rotate(-90)"><rect x="1.89" y="-2.62" width="4.56" height="4.32" fill="#fff"/><rect x="9.85" y="-2.62" width="4.29" height="4.32" fill="#fff"/></g>
<text x="498.42" y="818.75" font-size="17.6" font-weight="bold" textLength="19.96" lengthAdjust="spacingAndGlyphs">#4</text>
<polygon points="504.98,821.65 514.22,821.65 520.75,828.18 520.75,837.42 514.22,843.95 504.98,843.95 498.45,837.42 498.45,828.18" fill="#000"/>
<circle cx="509.6" cy="832.8" r="2.8" fill="#fff"/>
<polygon points="567.63,780.45 580.77,780.45 590.05,789.73 590.05,802.87 580.77,812.15 567.63,812.15 558.35,802.87 558.35,789.73" fill="#000"/>
<circle cx="574.2" cy="796.3" r="2.9" fill="#fff"/>
<polygon points="567.92,837.35 580.48,837.35 589.35,846.22 589.35,858.78 580.48,867.65 567.92,867.65 559.05,858.78 559.05,846.22" fill="#000"/>
<circle cx="574.2" cy="852.5" r="2.9" fill="#fff"/>
<text transform="translate(555.60,826.13) rotate(-90)" font-size="18.8" font-weight="bold" text-anchor="middle" textLength="41.06" lengthAdjust="spacingAndGlyphs">NFin</text>
<rect x="595.25" y="794.50" width="31.25" height="59.75" fill="#000"/>
<rect x="597.75" y="807.00" width="26.25" height="34.25" fill="#fff"/>
<text transform="translate(617.80,823.36) rotate(-90)" font-size="18.8" font-weight="bold" text-anchor="middle" textLength="24.11" lengthAdjust="spacingAndGlyphs">R3</text>
<polygon points="452.39,864.60 465.81,864.60 475.30,874.09 475.30,887.51 465.81,897.00 452.39,897.00 442.90,887.51 442.90,874.09" fill="#000"/>
<circle cx="459.1" cy="880.8" r="2.9" fill="#fff"/>
<polygon points="486.09,864.60 499.51,864.60 509.00,874.09 509.00,887.51 499.51,897.00 486.09,897.00 476.60,887.51 476.60,874.09" fill="#000"/>
<circle cx="492.8" cy="880.8" r="2.9" fill="#fff"/>
<polygon points="519.79,864.60 533.21,864.60 542.70,874.09 542.70,887.51 533.21,897.00 519.79,897.00 510.30,887.51 510.30,874.09" fill="#000"/>
<circle cx="526.5" cy="880.8" r="2.9" fill="#fff"/>
<text x="541.47" y="899.75" font-size="17.6" font-weight="bold" textLength="37.62" lengthAdjust="spacingAndGlyphs">Grd.</text>
<path d="M662.6,794 L662.6,785.9 Q663.2,784.1 668.6,779.9 Q669.6,778.9 671.1,778.9 L685.9,778.9 Q687.4,778.9 688.4,779.9 Q693.8,784.1 694.4,785.9 L694.4,794 Z" fill="#000"/>
<rect x="647.75" y="838.00" width="8.25" height="15.20" fill="#000"/>
<rect x="673.50" y="838.00" width="10.00" height="15.20" fill="#000"/>
<rect x="700.50" y="838.00" width="8.75" height="15.20" fill="#000"/>
<rect x="639.20" y="794.45" width="78.60" height="42.90" fill="#fff" stroke="#000" stroke-width="3.9"/>
<text x="659.96" y="821.75" font-size="17.6" font-weight="bold" textLength="35.66" lengthAdjust="spacingAndGlyphs">PT1</text><rect x="684.81" y="819.25" width="4.27" height="4.20" fill="#fff"/><rect x="692.25" y="819.25" width="4.02" height="4.20" fill="#fff"/>
<path d="M752.6,794 L752.6,785.9 Q753.2,784.1 758.6,779.9 Q759.6,778.9 761.1,778.9 L775.9,778.9 Q777.4,778.9 778.4,779.9 Q783.8,784.1 784.4,785.9 L784.4,794 Z" fill="#000"/>
<rect x="737.75" y="838.00" width="8.25" height="15.20" fill="#000"/>
<rect x="763.50" y="838.00" width="10.00" height="15.20" fill="#000"/>
<rect x="790.50" y="838.00" width="8.75" height="15.20" fill="#000"/>
<rect x="729.20" y="794.45" width="78.10" height="42.90" fill="#fff" stroke="#000" stroke-width="3.9"/>
<text x="750.02" y="821.75" font-size="17.6" font-weight="bold" textLength="33.98" lengthAdjust="spacingAndGlyphs">PT2</text>
<polygon points="733.77,757.80 747.03,757.80 756.40,767.17 756.40,780.43 747.03,789.80 733.77,789.80 724.40,780.43 724.40,767.17" fill="#000"/>
<circle cx="740.4" cy="773.8" r="2.9" fill="#fff"/>
<text x="702.42" y="780.00" font-size="17.6" font-weight="bold" textLength="20.29" lengthAdjust="spacingAndGlyphs">#3</text>
<polygon points="794.16,859.55 804.64,859.55 812.05,866.96 812.05,877.44 804.64,884.85 794.16,884.85 786.75,877.44 786.75,866.96" fill="#000"/>
<circle cx="799.4" cy="872.2" r="3" fill="#fff"/>
<text x="808.56" y="861.75" font-size="17.6" font-weight="bold" textLength="22.13" lengthAdjust="spacingAndGlyphs">#1</text><rect x="819.67" y="859.25" width="4.34" height="4.20" fill="#fff"/><rect x="827.25" y="859.25" width="4.09" height="4.20" fill="#fff"/>
<polygon points="719.73,870.35 732.87,870.35 742.15,879.63 742.15,892.77 732.87,902.05 719.73,902.05 710.45,892.77 710.45,879.63" fill="#000"/>
<circle cx="726.3" cy="886.2" r="2.9" fill="#fff"/>
</svg>
</body></html>
